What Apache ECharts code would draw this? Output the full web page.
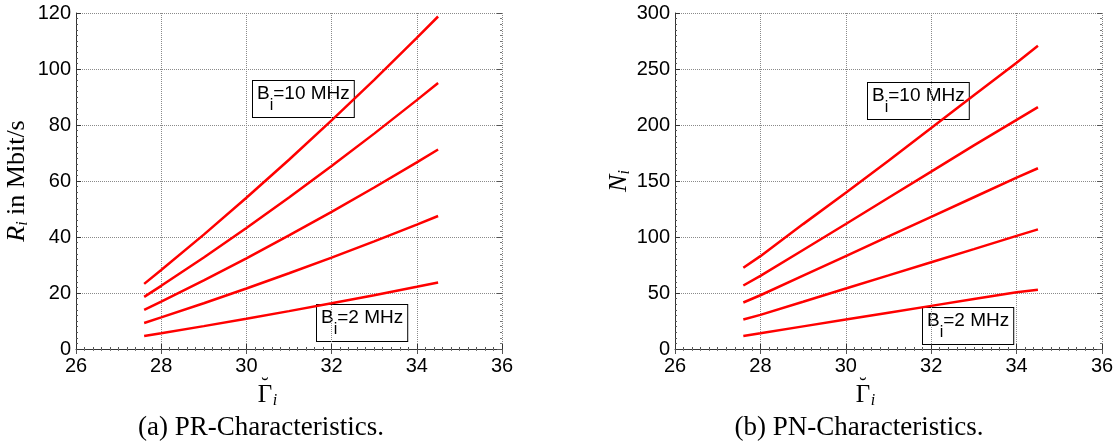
<!DOCTYPE html>
<html>
<head>
<meta charset="utf-8">
<script src="https://cdn.jsdelivr.net/npm/echarts@6/dist/echarts.min.js"></script>
<style>
  html, body { margin: 0; padding: 0; background: #fff; }
  #chart { width: 1118px; height: 445px; }
</style>
</head>
<body>
<div id="chart"></div>
<script>
// SNR values (x axis) shared by both panels
const gammaPts = [27.6, 28, 29, 30, 31, 32, 33, 34, 34.5];

// (a) data rate R_i in Mbit/s, one line per bandwidth
const rateB2 = [4.65, 5.64, 8.17, 10.8, 13.52, 16.33, 19.23, 22.22, 23.75];
const rateB4 = [9.3, 11.28, 16.34, 21.6, 27.04, 32.66, 38.46, 44.44, 47.5];
const rateB6 = [13.95, 16.92, 24.51, 32.4, 40.56, 48.99, 57.69, 66.66, 71.25];
const rateB8 = [18.6, 22.56, 32.68, 43.2, 54.08, 65.32, 76.92, 88.88, 95.0];
const rateB10 = [23.25, 28.2, 40.85, 54.0, 67.6, 81.65, 96.15, 111.1, 118.75];

// (b) N_i
const numB2 = [11.6, 14.0, 20.2, 26.3, 32.4, 38.5, 44.6, 50.6, 53.0];
const numB4 = [26.3, 30.5, 42.2, 54.0, 65.7, 77.5, 89.2, 101.0, 106.8];
const numB6 = [41.5, 48.0, 65.5, 83.0, 100.5, 118.0, 135.5, 153.0, 161.4];
const numB8 = [56.7, 65.3, 88.4, 111.6, 135.0, 158.4, 181.8, 204.6, 216.0];
const numB10 = [72.5, 82.9, 111.5, 139.5, 168.0, 197.4, 226.5, 255.6, 270.8];

const xTicks = { min: 26, max: 36, interval: 2 };
const rateTicks = { min: 0, max: 120, interval: 20 };
const numTicks = { min: 0, max: 300, interval: 50 };

const sans = 'Liberation Sans';
const serif = 'Liberation Serif';

const chart = echarts.init(document.getElementById('chart'));

const pairs = (ys) => ys.map((y, i) => [gammaPts[i], y]);

const gridLine = { show: true, lineStyle: { color: '#8a8a8a', type: 'dotted', width: 1 } };

function mainX(gridIndex) {
  return {
    type: 'value', gridIndex, ...xTicks,
    axisLine: { lineStyle: { color: '#333', width: 1 } },
    axisTick: { inside: true, length: 5, lineStyle: { color: '#333' } },
    minorTick: { show: true, splitNumber: 10, length: 2, lineStyle: { color: '#555' } },
    axisLabel: { fontFamily: sans, fontSize: 20, color: '#000', margin: 7 },
    splitLine: gridLine,
  };
}

function boxX(gridIndex) {
  return {
    type: 'value', gridIndex, ...xTicks, position: 'top',
    axisLine: { show: false },
    axisTick: { inside: true, length: 5, lineStyle: { color: '#555' } },
    minorTick: { show: true, splitNumber: 10, length: 2, lineStyle: { color: '#777' } },
    axisLabel: { show: false },
    splitLine: { show: false },
  };
}

function mainY(gridIndex, ticks, name, rich, gap) {
  return {
    type: 'value', gridIndex, ...ticks,
    name, nameLocation: 'middle', nameGap: gap, nameRotate: 90,
    nameTextStyle: { rich },
    axisLine: { show: true, lineStyle: { color: '#333', width: 1 } },
    axisTick: { show: true, inside: true, length: 5, lineStyle: { color: '#333' } },
    minorTick: { show: true, splitNumber: 10, length: 2, lineStyle: { color: '#555' } },
    axisLabel: { fontFamily: sans, fontSize: 20, color: '#000', margin: 5 },
    splitLine: gridLine,
  };
}

function boxY(gridIndex, ticks) {
  return {
    type: 'value', gridIndex, ...ticks, position: 'right',
    axisLine: { show: false },
    axisTick: { show: true, inside: true, length: 5, lineStyle: { color: '#555' } },
    minorTick: { show: true, splitNumber: 10, length: 2, lineStyle: { color: '#777' } },
    axisLabel: { show: false },
    splitLine: { show: false },
  };
}

function line(xIdx, yIdx, ys) {
  return {
    type: 'line', xAxisIndex: xIdx, yAxisIndex: yIdx,
    data: pairs(ys), showSymbol: false, symbol: 'none',
    lineStyle: { color: '#ff0000', width: 2.5 },
    silent: true, animation: false,
  };
}

const subRich = {
  a: { fontFamily: sans, fontSize: 19, color: '#000', lineHeight: 22, verticalAlign: 'top' },
  s: { fontFamily: sans, fontSize: 16, color: '#000', lineHeight: 30, verticalAlign: 'bottom' },
};

function bwBox(x, y, label) {
  return {
    type: 'text', left: x, top: y, silent: true,
    style: {
      text: '{a|B}{s|i}{a|=' + label + ' MHz}',
      rich: subRich,
      backgroundColor: '#fff', borderColor: '#000', borderWidth: 1,
      padding: [3, 4, 3, 4],
    },
  };
}

// x axis title: Gamma with a breve accent and italic subscript i
function gammaName(cx) {
  const txt = (x, y, text, size, style) => ({
    type: 'text', x, y, silent: true,
    style: {
      text, fontFamily: serif, fontSize: size, fontStyle: style || 'normal', fill: '#000',
      textAlign: 'center', textVerticalAlign: 'middle',
    },
  });
  return [
    txt(cx, 386, '˘', 22),
    txt(cx, 395, 'Γ', 25),
    txt(cx + 10, 401, 'i', 16, 'italic'),
  ];
}

function caption(cx, text) {
  return {
    type: 'text', x: cx, y: 428, silent: true,
    style: {
      text, fontFamily: serif, fontSize: 27, fill: '#000',
      textAlign: 'center', textVerticalAlign: 'middle',
    },
  };
}

const option = {
  backgroundColor: '#fff',
  animation: false,
  grid: [
    { left: 76, top: 13, width: 426, height: 336 },
    { left: 675, top: 13, width: 427, height: 336 },
  ],
  xAxis: [mainX(0), mainX(1), boxX(0), boxX(1)],
  yAxis: [
    mainY(0, rateTicks, '{r|R}{s|i}{t| in Mbit/s}', {
      r: { fontFamily: serif, fontSize: 26, fontStyle: 'italic', color: '#000' },
      s: { fontFamily: serif, fontSize: 16, fontStyle: 'italic', color: '#000', padding: [12, 0, 0, 0] },
      t: { fontFamily: serif, fontSize: 26, color: '#000' },
    }, 45),
    mainY(1, numTicks, '{r|N}{s|i}', {
      r: { fontFamily: serif, fontSize: 26, fontStyle: 'italic', color: '#000' },
      s: { fontFamily: serif, fontSize: 16, fontStyle: 'italic', color: '#000', padding: [12, 0, 0, 0] },
    }, 42),
    boxY(0, rateTicks),
    boxY(1, numTicks),
  ],
  series: [
    line(0, 0, rateB2), line(0, 0, rateB4), line(0, 0, rateB6), line(0, 0, rateB8), line(0, 0, rateB10),
    line(1, 1, numB2), line(1, 1, numB4), line(1, 1, numB6), line(1, 1, numB8), line(1, 1, numB10),
  ],
  graphic: [
    bwBox(252, 80, '10'),
    bwBox(316, 304, '2'),
    bwBox(867, 82, '10'),
    bwBox(922, 307, '2'),
    ...gammaName(265),
    ...gammaName(863),
    caption(261, '(a) PR-Characteristics.'),
    caption(859, '(b) PN-Characteristics.'),
  ],
};

chart.setOption(option);
</script>
</body>
</html>
